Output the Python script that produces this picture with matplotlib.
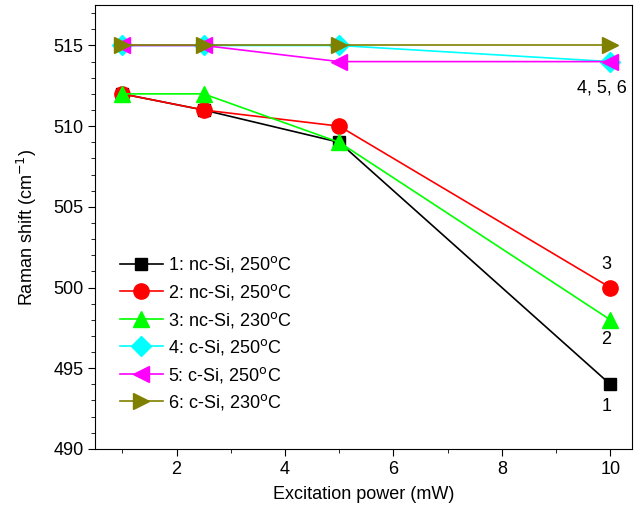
import numpy as np
import matplotlib.pyplot as plt
from matplotlib.ticker import MultipleLocator

plt.rcParams.update({'font.family': ['Liberation Sans', 'DejaVu Sans'], 'font.size': 13})

power = [1, 2.5, 5, 10]
shift1 = [512, 511, 509, 494]
shift2 = [512, 511, 510, 500]
shift3 = [512, 512, 509, 498]
shift4 = [515, 515, 515, 514]
shift5 = [515, 515, 514, 514]
shift6 = [515, 515, 515, 515]

labels = [
    "1: nc-Si, 250$^{\\mathrm{o}}$C",
    "2: nc-Si, 250$^{\\mathrm{o}}$C",
    "3: nc-Si, 230$^{\\mathrm{o}}$C",
    "4: c-Si, 250$^{\\mathrm{o}}$C",
    "5: c-Si, 250$^{\\mathrm{o}}$C",
    "6: c-Si, 230$^{\\mathrm{o}}$C",
]

series = [shift1, shift2, shift3, shift4, shift5, shift6]
colors = ["black", "red", "#00ff00", "cyan", "magenta", "#808000"]
markers = ["s", "o", "^", "D", "<", ">"]
sizes = [9, 11, 11, 10, 11, 11]

fig = plt.figure(figsize=(6.39, 5.13), dpi=100)
ax1 = fig.add_axes([0.149, 0.125, 0.840, 0.865])

for j in range(len(series)):
    ax1.plot(
        power,
        series[j],
        color=colors[j],
        marker=markers[j],
        markersize=sizes[j],
        linewidth=1.2,
        label=labels[j]
    )

ax1.text(9.85, 512.35, "4, 5, 6", ha="center", va="center")
ax1.text(9.93, 501.4, "3", ha="center", va="center")
ax1.text(9.93, 496.8, "2", ha="center", va="center")
ax1.text(9.93, 492.6, "1", ha="center", va="center")

ax1.set_xlim(0.5, 10.4)
ax1.set_ylim(490, 517.5)
ax1.xaxis.set_major_locator(MultipleLocator(2))
ax1.xaxis.set_minor_locator(MultipleLocator(1))
ax1.yaxis.set_major_locator(MultipleLocator(5))
ax1.yaxis.set_minor_locator(MultipleLocator(1))
ax1.tick_params(which="both", direction="out", top=False, right=False)
ax1.tick_params(which="major", length=5)
ax1.tick_params(which="minor", length=3)

ax1.set_xlabel("Excitation power (mW)", labelpad=6)
ax1.set_ylabel("Raman shift (cm$^{-1}$)", labelpad=10)

ax1.legend(loc="upper left", frameon=False, bbox_to_anchor=(0.015, 0.475),
           handlelength=2.4, handletextpad=0.3, labelspacing=0.42)

fig.savefig("out.png", dpi=100)
